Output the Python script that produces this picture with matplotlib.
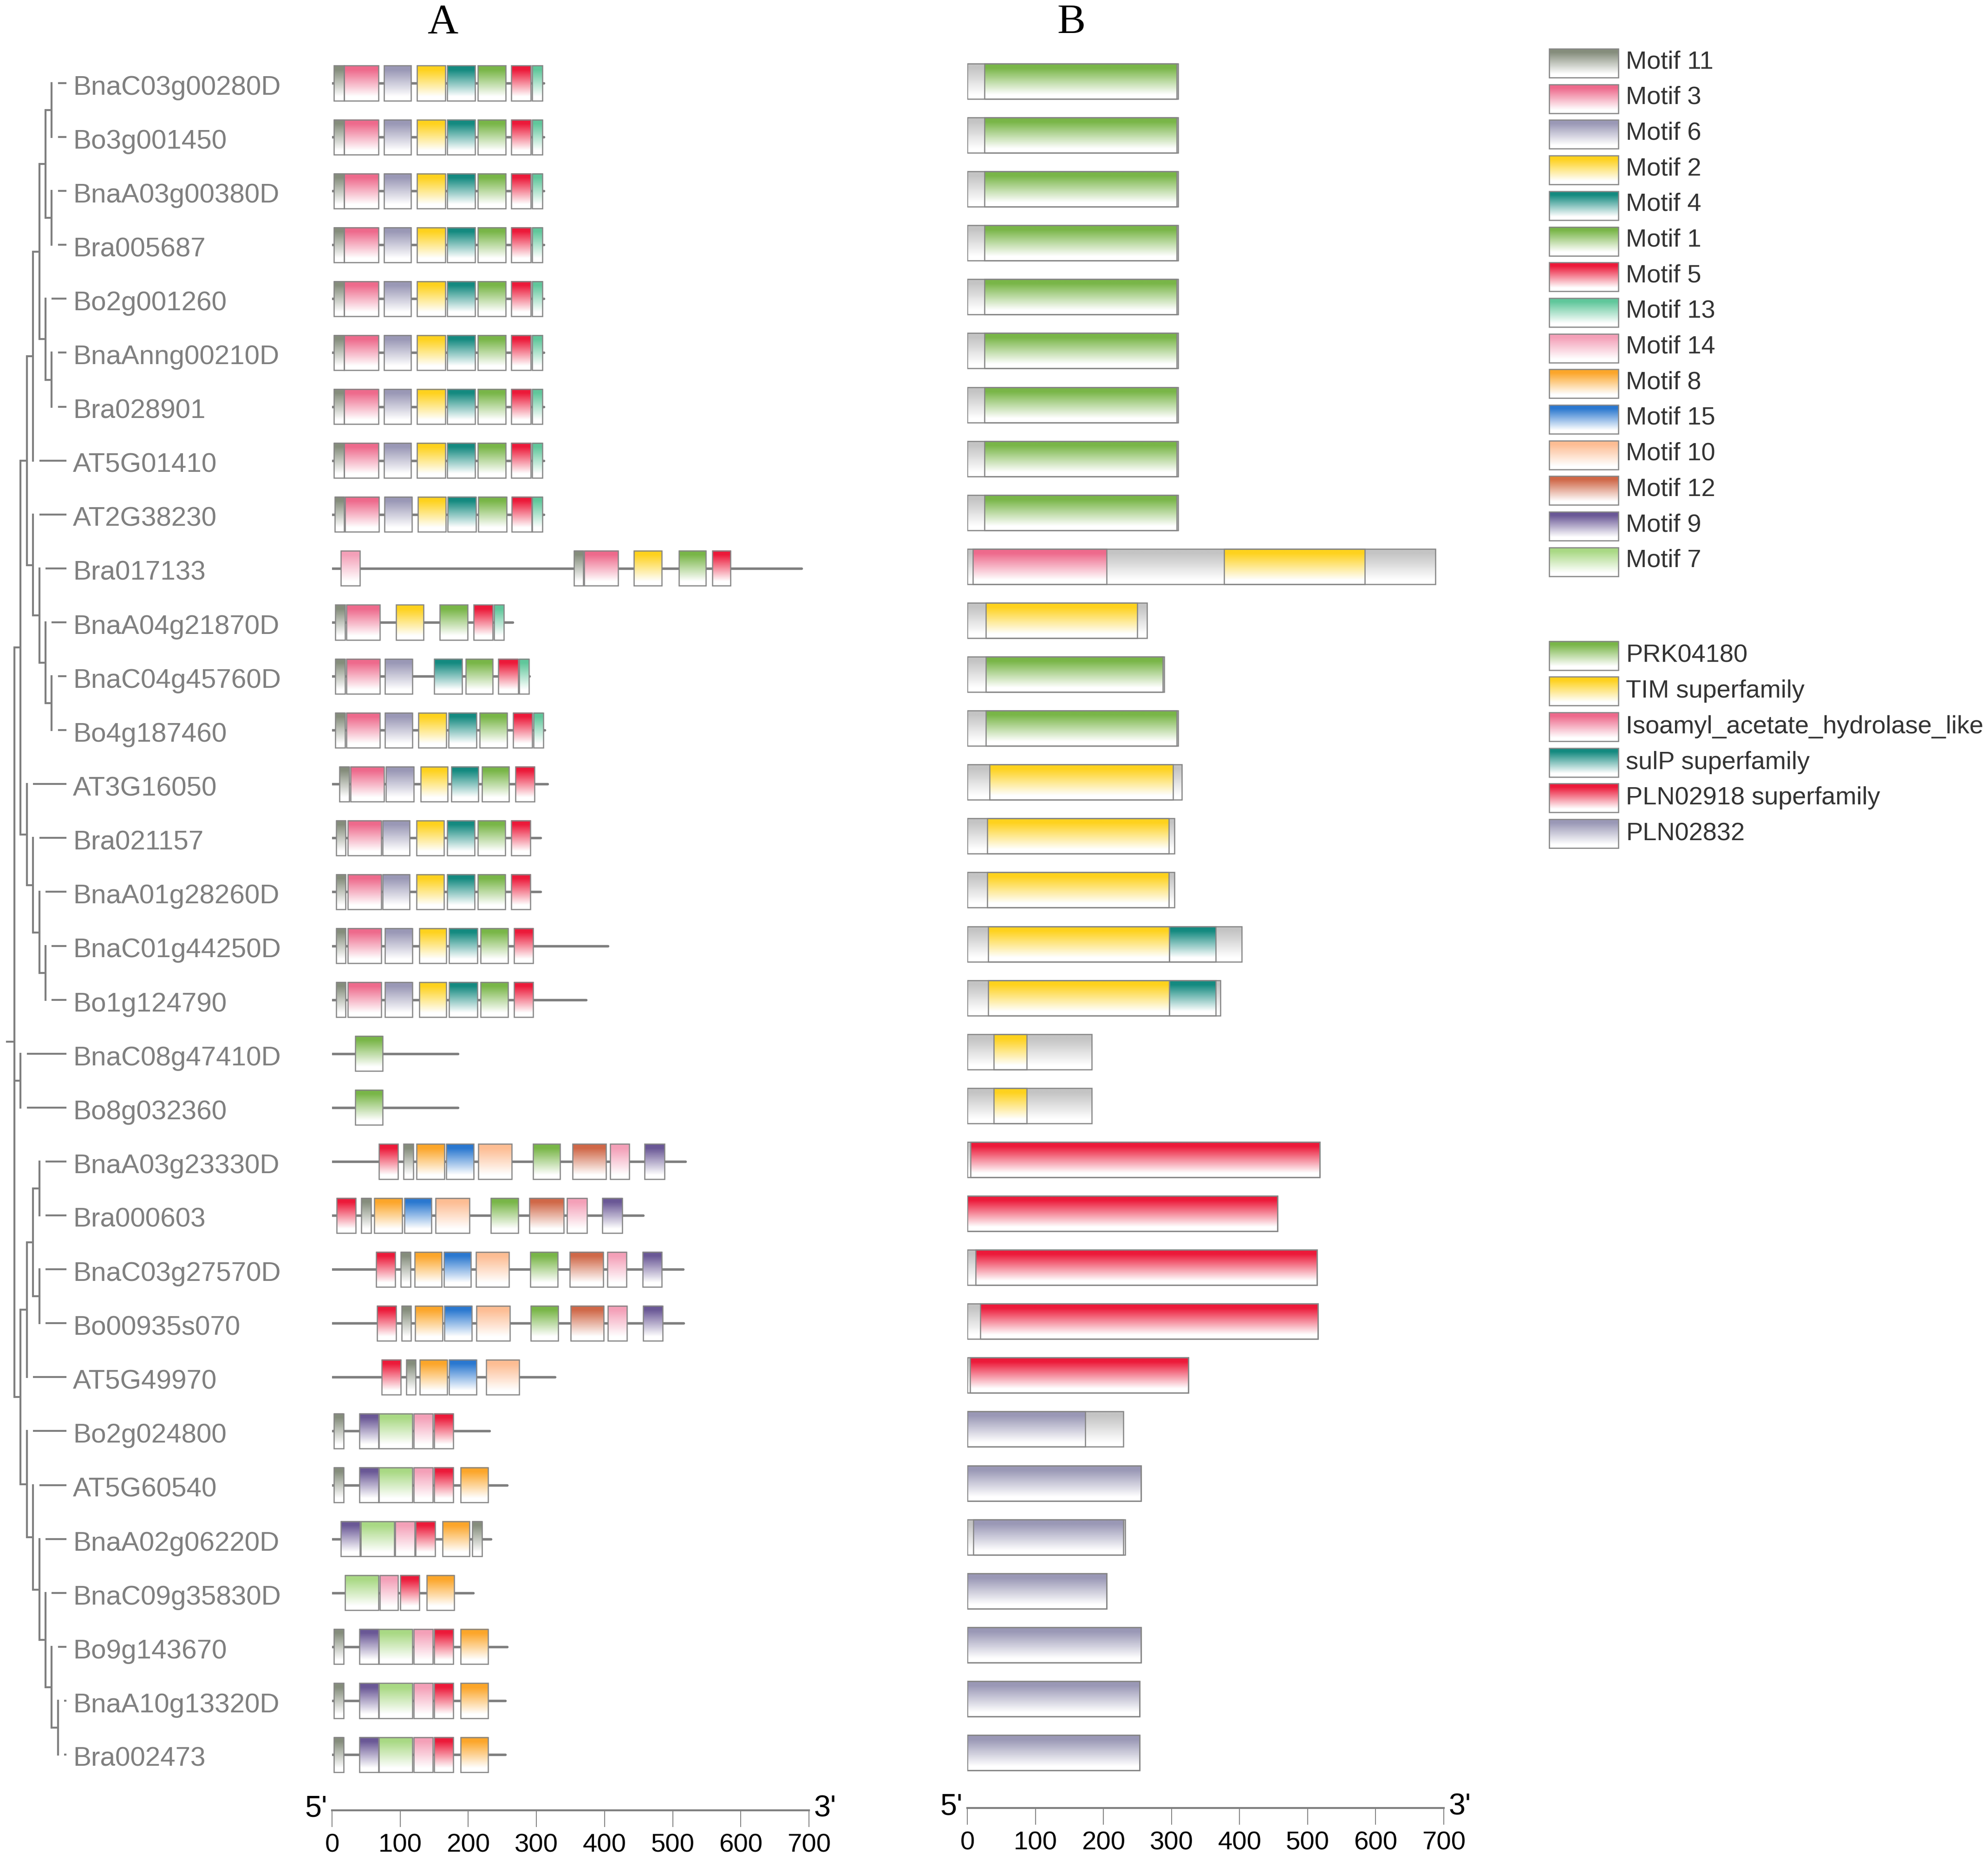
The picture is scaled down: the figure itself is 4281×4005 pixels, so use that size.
import numpy as np
import matplotlib.pyplot as plt
from matplotlib.patches import Rectangle
from matplotlib.colors import to_rgb

W, H, DPI = 4281, 4005, 300
plt.rcParams["font.family"] = ["Liberation Sans", "DejaVu Sans"]

GREY = "#7f7f7f"
EDGE = "#858585"

genes = ["BnaC03g00280D", "Bo3g001450", "BnaA03g00380D", "Bra005687", "Bo2g001260",
         "BnaAnng00210D", "Bra028901", "AT5G01410", "AT2G38230", "Bra017133",
         "BnaA04g21870D", "BnaC04g45760D", "Bo4g187460", "AT3G16050", "Bra021157",
         "BnaA01g28260D", "BnaC01g44250D", "Bo1g124790", "BnaC08g47410D", "Bo8g032360",
         "BnaA03g23330D", "Bra000603", "BnaC03g27570D", "Bo00935s070", "AT5G49970",
         "Bo2g024800", "AT5G60540", "BnaA02g06220D", "BnaC09g35830D", "Bo9g143670",
         "BnaA10g13320D", "Bra002473"]

motif_names = ["11", "3", "6", "2", "4", "1", "5", "13", "14", "8", "15", "10", "12", "9", "7"]
motif_colors = ["#858d7c", "#ee6a8c", "#9a98b6", "#fed21e", "#148a80", "#79b648", "#ec1a3a",
                "#60c79b", "#f4a0b8", "#fca62a", "#2a78d0", "#fdbd93", "#d06848", "#6a5896",
                "#a9d984"]

# panel A: gene length and (motif, start, end)
gene_len = [311, 311, 311, 311, 311, 311, 311, 311, 311, 689, 265, 290, 312, 316, 306, 306,
            405, 373, 185, 185, 519, 457, 515, 516, 327, 231, 257, 233, 207, 257, 254, 254]

m_full = [("11", 3, 18), ("3", 18, 68), ("6", 76, 116), ("2", 125, 166), ("4", 169, 210),
          ("1", 214, 255), ("5", 263, 292), ("13", 294, 309)]
m_at2 = [("11", 4, 18), ("3", 19, 69), ("6", 77, 117), ("2", 126, 167), ("4", 170, 211),
         ("1", 215, 256), ("5", 264, 293), ("13", 294, 309)]
m_bra017133 = [("14", 13, 41), ("11", 355, 369), ("3", 370, 420), ("2", 443, 484),
               ("1", 509, 549), ("5", 558, 585)]
m_bnaa04 = [("11", 5, 19), ("3", 21, 70), ("2", 94, 134), ("1", 158, 199), ("5", 208, 236),
            ("13", 238, 252)]
m_bnac04 = [("11", 5, 19), ("3", 21, 70), ("6", 78, 118), ("4", 150, 191), ("1", 196, 236),
            ("5", 244, 273), ("13", 275, 289)]
m_bo4 = [("11", 5, 19), ("3", 21, 70), ("6", 78, 118), ("2", 127, 168), ("4", 171, 212),
         ("1", 217, 257), ("5", 266, 294), ("13", 296, 310)]
m_at3 = [("11", 11, 25), ("3", 27, 76), ("6", 79, 120), ("2", 130, 170), ("4", 175, 215),
         ("1", 220, 260), ("5", 269, 297)]
m_bra021 = [("11", 6, 20), ("3", 23, 72), ("6", 74, 114), ("2", 124, 164), ("4", 169, 209),
            ("1", 214, 254), ("5", 263, 291)]
m_c01 = [("11", 6, 20), ("3", 23, 72), ("6", 78, 118), ("2", 128, 168), ("4", 172, 213),
         ("1", 218, 258), ("5", 267, 295)]
m_c08 = [("1", 34, 74)]
m_a03g23 = [("5", 69, 97), ("11", 105, 119), ("8", 124, 165), ("15", 168, 208), ("10", 215, 264),
            ("1", 295, 335), ("12", 353, 402), ("14", 408, 436), ("9", 459, 488)]
m_bra000603 = [("5", 7, 35), ("11", 43, 57), ("8", 62, 103), ("15", 106, 146), ("10", 152, 202),
               ("1", 233, 273), ("12", 290, 340), ("14", 345, 374), ("9", 397, 426)]
m_c03g27 = [("5", 65, 93), ("11", 101, 115), ("8", 121, 161), ("15", 164, 204), ("10", 211, 260),
            ("1", 291, 331), ("12", 349, 398), ("14", 404, 432), ("9", 456, 484)]
m_bo00935 = [("5", 66, 94), ("11", 102, 116), ("8", 122, 162), ("15", 165, 205), ("10", 212, 261),
             ("1", 292, 332), ("12", 350, 399), ("14", 405, 433), ("9", 457, 485)]
m_at5g49 = [("5", 73, 101), ("11", 109, 123), ("8", 129, 169), ("15", 172, 212), ("10", 226, 275)]
m_bo2g02 = [("11", 3, 17), ("9", 40, 68), ("7", 69, 118), ("14", 120, 148), ("5", 150, 178)]
m_at5g60 = m_bo2g02 + [("8", 189, 229)]
m_a02 = [("9", 13, 41), ("7", 42, 91), ("14", 93, 121), ("5", 123, 151), ("8", 162, 202),
         ("11", 206, 220)]
m_c09 = [("7", 19, 68), ("14", 70, 97), ("5", 100, 128), ("8", 139, 179)]

motifs = [m_full] * 8 + [m_at2, m_bra017133, m_bnaa04, m_bnac04, m_bo4, m_at3, m_bra021,
          m_bra021, m_c01, m_c01, m_c08, m_c08, m_a03g23, m_bra000603, m_c03g27, m_bo00935,
          m_at5g49, m_bo2g02, m_at5g60, m_a02, m_c09, m_at5g60, m_at5g60, m_at5g60]

# panel B: protein length and (domain, start, end)
domain_names = ["PRK04180", "TIM superfamily", "Isoamyl_acetate_hydrolase_like",
                "sulP superfamily", "PLN02918 superfamily", "PLN02832"]
domain_colors = ["#79b648", "#fed21e", "#ee6a8c", "#148a80", "#ec1a3a", "#9a98b6"]
prot_len = [310, 310, 310, 310, 310, 310, 310, 310, 310, 688, 264, 289, 310, 315, 304, 304,
            403, 372, 183, 183, 518, 456, 514, 515, 325, 229, 255, 232, 205, 255, 253, 253]
domains = ([[("PRK04180", 25, 308)]] * 9 +
           [[("Isoamyl_acetate_hydrolase_like", 8, 205), ("TIM superfamily", 377, 584)],
            [("TIM superfamily", 27, 250)],
            [("PRK04180", 27, 287)],
            [("PRK04180", 27, 308)],
            [("TIM superfamily", 33, 302)],
            [("TIM superfamily", 29, 296)],
            [("TIM superfamily", 29, 296)],
            [("TIM superfamily", 31, 297), ("sulP superfamily", 297, 365)],
            [("TIM superfamily", 31, 297), ("sulP superfamily", 297, 365)],
            [("TIM superfamily", 39, 87)],
            [("TIM superfamily", 39, 87)],
            [("PLN02918 superfamily", 5, 518)],
            [("PLN02918 superfamily", 0, 456)],
            [("PLN02918 superfamily", 12, 514)],
            [("PLN02918 superfamily", 19, 515)],
            [("PLN02918 superfamily", 4, 325)],
            [("PLN02832", 0, 173)],
            [("PLN02832", 0, 255)],
            [("PLN02832", 9, 229)],
            [("PLN02832", 0, 205)],
            [("PLN02832", 0, 255)],
            [("PLN02832", 0, 253)],
            [("PLN02832", 0, 253)]])

# tree topology, leaves = row index
tree = [
    [[[[[[0, 1], [2, 3]], [4, [5, 6]]], 7], [8, [9, [10, [11, 12]]]]],
     [13, [14, [15, [16, 17]]]]],
    [18, 19],
    [[[[20, 21], [22, 23]], 24], [25, [26, [27, [28, [29, [30, 31]]]]]]],
]

# layout helpers (pixel -> row units)
ROW0, ROWSTEP, TOP = 179.0, 116.1, 100.0
TREE_LW = 1.0


def row_of(p):
    return (p - ROW0) / ROWSTEP


def px_axes(fig, left, right, top, bottom):
    return fig.add_axes([left / W, 1 - bottom / H, (right - left) / W, (bottom - top) / H])


def gradient(color, n=120):
    c = np.array(to_rgb(color))
    t = np.linspace(0, 1, n)[:, None]
    w = np.clip((0.88 - t) / 0.76, 0, 1)
    return (c * w + (1 - w))[:, None, :]


def grad_box(ax, x0, x1, yc, h, color, lw=0.6):
    ax.imshow(gradient(color), extent=[x0, x1, yc + h, yc - h], aspect="auto",
              interpolation="bilinear", zorder=2)
    ax.add_patch(Rectangle((x0, yc - h), x1 - x0, 2 * h, fill=False, ec=EDGE, lw=lw, zorder=3))


def style_scale(ax):
    for s in ["top", "left", "right"]:
        ax.spines[s].set_visible(False)
    ax.spines["bottom"].set_color(GREY)
    ax.spines["bottom"].set_linewidth(1.0)
    ax.set_yticks([])
    ax.set_xticks(range(0, 701, 100))
    ax.tick_params(axis="x", direction="out", length=8.6, width=0.45, color=GREY,
                   labelsize=13.5, pad=3.2, labelcolor="black")
    ax.patch.set_alpha(0)


fig = plt.figure(figsize=(W / DPI, H / DPI), dpi=DPI)

# tree
TX0, TSTEP = 31.0, 13.4
axt = px_axes(fig, 0, 150, TOP, 3898)
axt.set_xlim(-TX0 / TSTEP, (150 - TX0) / TSTEP)
axt.set_ylim(row_of(3898), row_of(TOP))
axt.axis("off")
tip = (143 - TX0) / TSTEP


def draw_node(node, depth):
    if isinstance(node, int):
        axt.plot([depth, tip], [node, node], color=GREY, lw=TREE_LW, solid_capstyle="butt")
        return node
    ys = [draw_node(ch, depth + 1) for ch in node]
    for ch, y in zip(node, ys):
        if not isinstance(ch, int):
            axt.plot([depth, depth + 1], [y, y], color=GREY, lw=TREE_LW, solid_capstyle="butt")
    axt.plot([depth, depth], [min(ys), max(ys)], color=GREY, lw=TREE_LW,
             solid_capstyle="projecting")
    return float(np.mean(ys))


yroot = draw_node(tree, 0)
axt.plot([(15 - TX0) / TSTEP, 0], [yroot, yroot], color=GREY, lw=TREE_LW)
for i, g in enumerate(genes):
    axt.text((157 - TX0) / TSTEP, i + 0.085, g, color=GREY, fontsize=14, va="center",
             ha="left", clip_on=False)

# panel A
axa = px_axes(fig, 715, 1742, TOP, 3898)
axa.set_xlim(0, 700)
axa.set_ylim(row_of(3898), row_of(TOP))
axa.set_autoscale_on(False)
style_scale(axa)
mcol = dict(zip(motif_names, motif_colors))
for i, (ln, ms) in enumerate(zip(gene_len, motifs)):
    axa.plot([0, ln], [i, i], color=GREY, lw=1.3, solid_capstyle="round", zorder=1)
    for m, s, e in ms:
        grad_box(axa, s, e, i, 0.323, mcol[m])
axa.text(-7, row_of(3912), "5'", ha="right", va="baseline", fontsize=15.5)
axa.text(707, row_of(3912), "3'", ha="left", va="baseline", fontsize=15.5)

# panel B
axb = px_axes(fig, 2083, 3109, TOP, 3893)
axb.set_xlim(0, 700)
axb.set_ylim(row_of(3893), row_of(TOP))
axb.set_autoscale_on(False)
style_scale(axb)
dcol = dict(zip(domain_names, domain_colors))
for i, (ln, ds) in enumerate(zip(prot_len, domains)):
    grad_box(axb, 0, ln, i - 0.035, 0.327, "#c4c4c4")
    for d, s, e in ds:
        grad_box(axb, s, e, i - 0.035, 0.327, dcol[d])
axb.text(-7, row_of(3907), "5'", ha="right", va="baseline", fontsize=15.5)
axb.text(707, row_of(3907), "3'", ha="left", va="baseline", fontsize=15.5)

fig.text(953 / W, 1 - 50 / H, "A", ha="center", va="center", fontsize=22,
         family=["Liberation Serif", "DejaVu Serif"])
fig.text(2307 / W, 1 - 50 / H, "B", ha="center", va="center", fontsize=22,
         family=["Liberation Serif", "DejaVu Serif"])

# legends
axl = px_axes(fig, 3300, 4281, 60, 1900)
axl.set_xlim(3300, 4281)
axl.set_ylim(1900, 60)
axl.set_autoscale_on(False)
axl.axis("off")
for k, (m, c) in enumerate(zip(motif_names, motif_colors)):
    yc = 136 + 76.7 * k
    grad_box(axl, 3336, 3485, yc, 31, c)
    axl.text(3501, yc - 3, f"Motif {m}", va="center", ha="left", fontsize=13, color="#333333")
for k, (d, c) in enumerate(zip(domain_names, domain_colors)):
    yc = 1411.5 + 76.7 * k
    grad_box(axl, 3336, 3485, yc, 31, c)
    axl.text(3501, yc, d, va="center", ha="left", fontsize=13, color="#333333")

fig.savefig("out.png", dpi=DPI)
